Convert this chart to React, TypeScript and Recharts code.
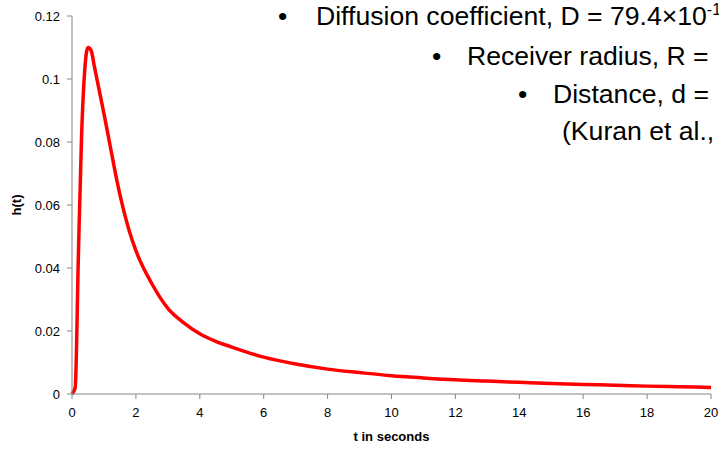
import { Line, LineChart, XAxis, YAxis } from "recharts";

// t in seconds and h(t)
const timeSeconds = [
  0, 0.1, 0.2, 0.3, 0.4, 0.5, 0.6, 0.7, 0.8, 0.9, 1.0, 1.2, 1.4, 1.6, 1.8, 2.0, 2.5, 3.0, 3.5, 4.0, 4.5, 5, 6, 7, 8,
  9, 10, 11, 12, 13, 14, 15, 16, 17, 18, 19, 20,
];
const hValues = [
  0, 0.002, 0.044, 0.082, 0.103, 0.11, 0.109, 0.104, 0.099, 0.094, 0.089, 0.0785, 0.068, 0.059, 0.0515, 0.0455, 0.035,
  0.0272, 0.0226, 0.0191, 0.0167, 0.0149, 0.0117, 0.0095, 0.0079, 0.0068, 0.0058, 0.0051, 0.0045, 0.0041, 0.0037,
  0.0033, 0.003, 0.0028, 0.0025, 0.0023, 0.0021,
];
const xTicks = [0, 2, 4, 6, 8, 10, 12, 14, 16, 18, 20];
const yTicks = [0, 0.02, 0.04, 0.06, 0.08, 0.1, 0.12];

const data = timeSeconds.map((t, i) => ({ t, h: hValues[i] }));

const FONT = "'Liberation Sans', Arial, sans-serif";
const AXIS_COLOR = "#868686";
const TICK_STYLE = { fill: "#000", fontSize: 13, fontFamily: FONT };
const TITLE_STYLE = { fill: "#000", fontSize: 13, fontWeight: "bold", fontFamily: FONT };

const noteStyle = {
  position: "absolute" as const,
  fontFamily: FONT,
  fontSize: 26.6,
  lineHeight: "26px",
  color: "#000",
  whiteSpace: "nowrap" as const,
};

export default function App() {
  return (
    <div style={{ position: "absolute", left: 0, top: 0, width: 719, height: 450, overflow: "hidden" }}>
      <LineChart width={719} height={450} data={data} margin={{ top: 16, right: 8, bottom: 0, left: 0 }}>
        <XAxis
          dataKey="t"
          type="number"
          domain={[0, 20]}
          ticks={xTicks}
          interval={0}
          height={56}
          stroke={AXIS_COLOR}
          tickSize={5}
          tickMargin={9}
          tick={TICK_STYLE}
          label={{ value: "t in seconds", position: "insideBottom", offset: 9, style: TITLE_STYLE }}
        />
        <YAxis
          type="number"
          domain={[0, 0.12]}
          ticks={yTicks}
          interval={0}
          width={72}
          stroke={AXIS_COLOR}
          tickSize={5}
          tickMargin={7}
          tick={TICK_STYLE}
          label={{
            value: "h(t)",
            angle: -90,
            position: "insideLeft",
            offset: 16,
            style: { ...TITLE_STYLE, textAnchor: "middle" },
          }}
        />
        <Line
          type="monotone"
          dataKey="h"
          stroke="#ff0000"
          strokeWidth={3.5}
          dot={false}
          activeDot={false}
          isAnimationActive={false}
        />
      </LineChart>

      <span style={{ ...noteStyle, left: 278, top: 3 }}>•</span>
      <span style={{ ...noteStyle, left: 316, top: 3 }}>
        Diffusion coefficient, D = 79.4×10<sup style={{ fontSize: 16, lineHeight: 0 }}>-1</sup>
      </span>
      <span style={{ ...noteStyle, left: 432, top: 43 }}>•</span>
      <span style={{ ...noteStyle, left: 467, top: 43 }}>Receiver radius, R =</span>
      <span style={{ ...noteStyle, left: 518, top: 81 }}>•</span>
      <span style={{ ...noteStyle, left: 553, top: 81 }}>Distance, d =</span>
      <span style={{ ...noteStyle, left: 562, top: 118 }}>(Kuran et al.,</span>
    </div>
  );
}
